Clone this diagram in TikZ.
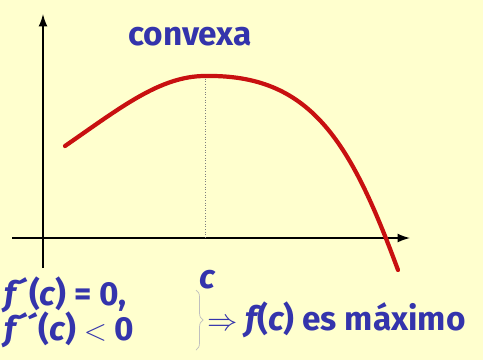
\documentclass[tikz,border=0pt]{standalone}
\usepackage{fontspec}
\setmainfont{Fira Sans}
\usetikzlibrary{positioning}
\usetikzlibrary{arrows.meta}
\usetikzlibrary{decorations.pathreplacing}
\definecolor{paper}{RGB}{255,255,206}
\definecolor{ink}{RGB}{52,52,172}
\definecolor{curvered}{RGB}{200,16,16}
\tikzset{axis/.style = {line width=0.8pt, -{Latex[length=7pt,width=5pt]}}}
\tikzset{graph/.style = {line width=2.4pt, curvered, line cap=round}}
\tikzset{lbl/.style = {ink, font=\fontsize{19}{22}\selectfont\bfseries, inner sep=0}}
\begin{document}
\begin{tikzpicture}[x=0.02cm, y=-0.02cm]
    \fill[paper] (0,0) rectangle (483,360);
    \useasboundingbox (0,0) rectangle (483,360);
    % axes
    \coordinate (ybot) at (43,268);
    \coordinate (ytop) at (43,14);
    \coordinate (xleft) at (12,238);
    \coordinate (xright) at (410,238);
    \draw[axis] (ybot) -- (ytop);
    \draw[axis] (xleft) -- (xright);
    % the curve
    \coordinate (start) at (65,146);
    \coordinate (top) at (205,76);
    \coordinate (finish) at (398,270);
    \coordinate (foot) at (205,238);
    \draw[densely dotted, gray, line width=0.5pt] (top) -- (foot);
    \draw[graph] (start) .. controls (120,108) and (160,76) .. (top)
        .. controls (310,74) and (350,140) .. (finish);
    % labels
    \node[lbl] (convexa) at (190,37) {convexa};
    \node[lbl] (c) at (207,280) {\itshape c};
    \node[lbl, anchor=west] (cond1) at (4,295) {\itshape f\kern1pt\upshape´(\itshape c\upshape) = 0,};
    \node[lbl, anchor=west] (cond2) at (4,330) {\itshape f\kern1pt\upshape´\kern-1pt´(\itshape c\upshape) $<$ 0};
    \draw[decorate, decoration={brace, amplitude=4pt}, gray!50, line width=0.4pt]
        (196,290) -- (196,350);
    \node[lbl, anchor=west] (result) at (207,320)
        {$\Rightarrow$ \itshape f\upshape(\itshape c\upshape) es máximo};
\end{tikzpicture}
\end{document}
